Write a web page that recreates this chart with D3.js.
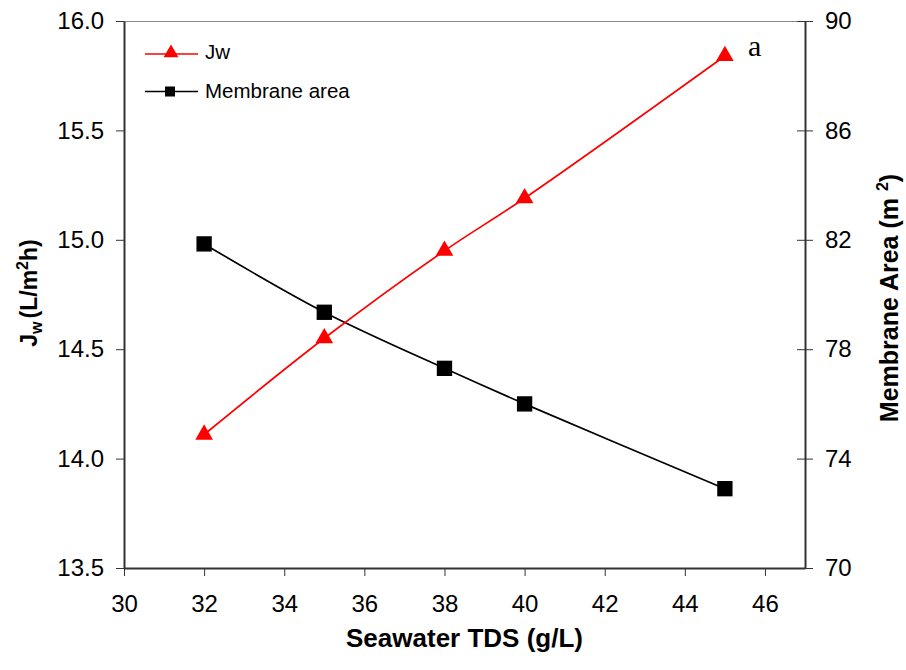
<!DOCTYPE html>
<html>
<head>
<meta charset="utf-8">
<script src="https://cdn.jsdelivr.net/npm/d3@7"></script>
<style>
body { margin: 0; background: #fff; }
svg text { font-family: "Liberation Sans", Arial, sans-serif; }
</style>
</head>
<body>
<div id="chart"></div>
<script>
// values
var tds = [32, 35, 38, 40, 45];
var jw = [14.11, 14.55, 14.95, 15.19, 15.84];
var area = [81.85, 79.35, 77.3, 76.0, 72.9];
var xTicks = [30, 32, 34, 36, 38, 40, 42, 44, 46];
var yLeftTicks = [13.5, 14.0, 14.5, 15.0, 15.5, 16.0];
var yRightTicks = [70, 74, 78, 82, 86, 90];

var width = 906, height = 670;
var margin = {top: 21, right: 101, bottom: 102, left: 124};
var w = width - margin.left - margin.right,
    h = height - margin.top - margin.bottom;

var svg = d3.select('#chart').append('svg')
    .attr('width', width)
    .attr('height', height);

var main = svg.append('g')
    .attr('transform', 'translate(' + margin.left + ',' + margin.top + ')');

var x = d3.scaleLinear().domain([30, 47]).range([0, w]);
var yL = d3.scaleLinear().domain([13.5, 16]).range([h, 0]);
var yR = d3.scaleLinear().domain([70, 90]).range([h, 0]);

// plot border top
main.append('line')
    .attr('x1', 0).attr('x2', w).attr('y1', 0.5).attr('y2', 0.5)
    .attr('stroke', '#888').attr('stroke-width', 1);

var xAxis = main.append('g')
    .attr('transform', 'translate(0,' + h + ')')
    .call(d3.axisBottom(x).tickValues(xTicks).tickSize(8).tickPadding(19).tickSizeOuter(0));

var leftAxis = main.append('g')
    .call(d3.axisLeft(yL).tickValues(yLeftTicks).tickFormat(d3.format('.1f')).tickSize(8).tickPadding(12).tickSizeOuter(0));

var rightAxis = main.append('g')
    .attr('transform', 'translate(' + w + ',0)')
    .call(d3.axisRight(yR).tickValues(yRightTicks).tickSize(8).tickPadding(12).tickSizeOuter(0));

// right ticks cross the axis
rightAxis.selectAll('.tick line').attr('x1', -8);

[xAxis, leftAxis, rightAxis].forEach(function (a) {
    a.select('.domain').attr('stroke', '#333').attr('stroke-width', 2);
    a.selectAll('.tick line').attr('stroke', '#333').attr('stroke-width', 1);
    a.selectAll('.tick text')
        .attr('font-size', 24)
        .attr('fill', '#000')
        .style('font-family', '"Liberation Sans", Arial, sans-serif');
});

// lines
var lineJw = d3.line()
    .x(function (d, i) { return x(tds[i]); })
    .y(function (d) { return yL(d); })
    .curve(d3.curveCatmullRom);

var lineArea = d3.line()
    .x(function (d, i) { return x(tds[i]); })
    .y(function (d) { return yR(d); })
    .curve(d3.curveCatmullRom);

main.append('path')
    .datum(area)
    .attr('fill', 'none')
    .attr('stroke', '#000')
    .attr('stroke-width', 1.7)
    .attr('d', lineArea);

main.append('path')
    .datum(jw)
    .attr('fill', 'none')
    .attr('stroke', '#ff0000')
    .attr('stroke-width', 1.7)
    .attr('d', lineJw);

var tri = d3.symbol().type(d3.symbolTriangle).size(135);
var sq = d3.symbol().type(d3.symbolSquare).size(235);

main.selectAll('.sq')
    .data(area)
    .enter().append('path')
    .attr('class', 'sq')
    .attr('transform', function (d, i) { return 'translate(' + x(tds[i]) + ',' + yR(d) + ')'; })
    .attr('d', sq)
    .attr('fill', '#000');

main.selectAll('.tri')
    .data(jw)
    .enter().append('path')
    .attr('class', 'tri')
    .attr('transform', function (d, i) { return 'translate(' + x(tds[i]) + ',' + yL(d) + ')'; })
    .attr('d', tri)
    .attr('fill', '#ff0000');

// legend
var legend = svg.append('g');
legend.append('line')
    .attr('x1', 145).attr('x2', 198).attr('y1', 54).attr('y2', 54)
    .attr('stroke', '#ff0000').attr('stroke-width', 1.6);
legend.append('path')
    .attr('transform', 'translate(171,53)')
    .attr('d', d3.symbol().type(d3.symbolTriangle).size(95))
    .attr('fill', '#ff0000');
legend.append('text')
    .attr('x', 205).attr('y', 59)
    .attr('font-size', 20.5)
    .text('Jw');

legend.append('line')
    .attr('x1', 145).attr('x2', 198).attr('y1', 91.5).attr('y2', 91.5)
    .attr('stroke', '#000').attr('stroke-width', 1.6);
legend.append('path')
    .attr('transform', 'translate(170,91.5)')
    .attr('d', d3.symbol().type(d3.symbolSquare).size(100))
    .attr('fill', '#000');
legend.append('text')
    .attr('x', 205).attr('y', 98)
    .attr('font-size', 20.5)
    .text('Membrane area');

// panel mark
svg.append('text')
    .attr('x', 748).attr('y', 56)
    .attr('font-size', 30)
    .style('font-family', '"Liberation Serif", "Times New Roman", serif')
    .text('a');

// axis titles
svg.append('text')
    .attr('x', margin.left + w / 2).attr('y', 647)
    .attr('text-anchor', 'middle')
    .attr('font-size', 26)
    .attr('font-weight', 'bold')
    .text('Seawater TDS (g/L)');

var yl = svg.append('text')
    .attr('transform', 'translate(37,293) rotate(-90)')
    .attr('text-anchor', 'middle')
    .attr('font-size', 23)
    .attr('font-weight', 'bold');
yl.append('tspan').text('J');
yl.append('tspan').attr('font-size', 16).attr('dy', 5).text('w');
yl.append('tspan').attr('dy', -5).attr('dx', 3).text('(L/m');
yl.append('tspan').attr('font-size', 16).attr('dy', -9).text('2');
yl.append('tspan').attr('dy', 9).text('h)');

var yr = svg.append('text')
    .attr('transform', 'translate(898,298) rotate(-90)')
    .attr('text-anchor', 'middle')
    .attr('font-size', 25)
    .attr('font-weight', 'bold');
yr.append('tspan').text('Membrane Area (m ');
yr.append('tspan').attr('font-size', 16).attr('dy', -10).text('2');
yr.append('tspan').attr('dy', 10).text(')');
</script>
</body>
</html>
